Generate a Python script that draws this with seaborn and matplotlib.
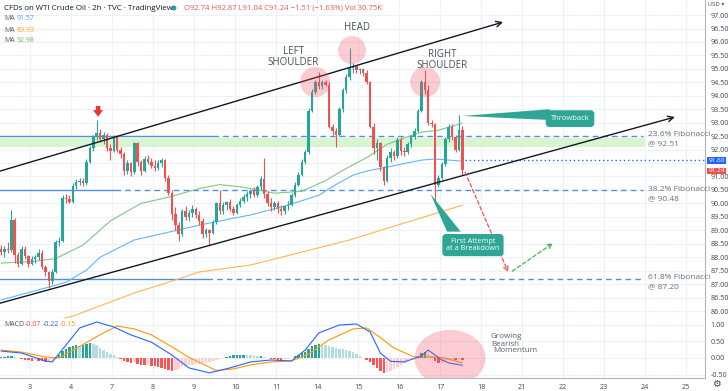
import numpy as np
import matplotlib
matplotlib.use("Agg")
import matplotlib.pyplot as plt
from matplotlib.patches import Ellipse, Polygon
import seaborn as sns

# ---------------- data ----------------
opens = [88.30, 88.20, 88.30, 88.25, 89.40, 88.10, 87.75, 88.30, 88.05, 87.75,
         87.95, 88.00, 88.15, 87.65, 87.45, 87.10, 87.45, 88.55, 88.60, 90.20,
         90.15, 90.05, 90.65, 90.80, 90.85, 90.75, 91.55, 92.05, 92.45, 92.60,
         92.40, 92.55, 92.05, 91.95, 92.50, 92.00, 91.85, 91.20, 91.50, 91.15,
         92.25, 91.55, 91.20, 91.65, 91.55, 91.40, 91.30, 91.50, 91.60, 90.95,
         90.40, 89.60, 89.20, 88.85, 89.70, 89.50, 89.65, 89.80, 89.55, 89.35,
         88.85, 89.00, 88.90, 89.30, 90.00, 89.70, 89.95, 90.05, 89.80, 89.65,
         89.95, 90.10, 90.25, 90.35, 90.45, 90.30, 90.60, 90.90, 90.35, 90.00,
         89.85, 90.00, 89.80, 89.70, 89.90, 89.95, 90.30, 90.70, 91.05, 91.55,
         91.90, 93.45, 94.15, 94.50, 94.35, 94.50, 94.40, 92.85, 92.70, 92.55,
         93.50, 94.20, 94.70, 95.05, 95.10, 94.95, 95.00, 94.85, 94.50, 92.85,
         92.05, 92.25, 91.35, 90.85, 91.70, 91.90, 91.75, 92.35, 91.95, 91.90,
         92.20, 92.45, 92.70, 93.45, 94.50, 94.20, 93.00, 92.95, 90.70, 90.95,
         91.45, 92.40, 92.85, 92.45, 92.00, 92.74]
highs = [88.45, 88.40, 88.55, 89.75, 89.45, 88.20, 88.40, 88.40, 88.10, 88.05,
         88.10, 88.30, 88.25, 87.70, 87.50, 87.55, 88.65, 88.75, 90.30, 90.35,
         90.30, 90.75, 90.90, 90.95, 90.95, 91.65, 92.15, 92.55, 93.10, 92.75,
         92.65, 92.60, 92.20, 92.55, 92.55, 92.10, 91.90, 91.60, 91.55, 92.30,
         92.30, 91.60, 91.75, 91.80, 91.70, 91.60, 91.60, 91.70, 91.65, 91.05,
         90.50, 89.85, 89.30, 89.80, 89.90, 89.75, 89.95, 89.85, 89.70, 89.45,
         89.10, 89.05, 89.40, 90.05, 90.50, 90.05, 90.10, 90.15, 89.90, 90.00,
         90.20, 90.35, 90.45, 90.55, 90.60, 90.70, 91.00, 91.70, 90.45, 90.20,
         90.10, 90.10, 89.95, 89.95, 90.10, 90.40, 90.80, 91.15, 91.65, 92.00,
         93.55, 94.25, 94.60, 94.90, 94.60, 94.60, 94.50, 92.95, 92.80, 93.60,
         94.30, 94.80, 95.77, 95.20, 95.15, 95.05, 95.05, 94.95, 94.55, 93.00,
         92.40, 92.30, 91.40, 91.80, 92.05, 92.00, 92.45, 92.45, 92.10, 92.30,
         92.55, 92.80, 93.50, 94.60, 94.95, 94.40, 93.10, 93.00, 91.05, 91.55,
         92.45, 92.95, 92.95, 92.55, 93.30, 92.87]
lows = [88.10, 88.00, 88.15, 88.20, 87.80, 87.65, 87.70, 87.95, 87.65, 87.70,
        87.80, 87.90, 87.55, 87.30, 86.85, 87.00, 87.40, 88.40, 88.55, 90.00,
        90.00, 90.00, 90.55, 90.70, 90.65, 90.70, 91.50, 91.95, 92.35, 92.30,
        92.20, 91.95, 91.60, 91.90, 91.90, 91.70, 91.05, 91.10, 91.00, 91.10,
        91.40, 91.05, 91.15, 91.45, 91.30, 91.20, 91.25, 91.35, 90.85, 90.30,
        89.40, 89.00, 88.60, 88.80, 89.40, 89.35, 89.50, 89.45, 89.20, 88.70,
        88.75, 88.45, 88.85, 89.25, 89.60, 89.60, 89.75, 89.70, 89.55, 89.60,
        89.85, 90.00, 90.10, 90.20, 90.25, 90.25, 90.50, 90.20, 89.90, 89.70,
        89.75, 89.65, 89.55, 89.60, 89.75, 89.90, 90.25, 90.65, 91.00, 91.45,
        91.85, 93.40, 94.05, 94.25, 94.25, 94.35, 92.80, 92.55, 92.10, 92.50,
        93.40, 94.10, 94.60, 94.85, 94.85, 94.80, 94.75, 94.45, 92.80, 91.85,
        91.60, 91.20, 90.70, 90.80, 91.55, 91.60, 91.70, 91.80, 91.75, 91.85,
        92.10, 92.40, 92.65, 93.40, 94.05, 92.90, 92.85, 90.00, 90.60, 90.90,
        91.40, 92.30, 92.35, 91.90, 91.95, 91.04]
closes = [88.20, 88.30, 88.25, 89.40, 88.10, 87.75, 88.30, 88.05, 87.75, 87.95,
          88.00, 88.15, 87.65, 87.45, 87.10, 87.45, 88.55, 88.60, 90.20, 90.15,
          90.05, 90.65, 90.80, 90.85, 90.75, 91.55, 92.05, 92.45, 92.60, 92.40,
          92.55, 92.05, 91.95, 92.50, 92.00, 91.85, 91.20, 91.50, 91.15, 92.25,
          91.55, 91.20, 91.65, 91.55, 91.40, 91.30, 91.50, 91.60, 90.95, 90.40,
          89.60, 89.20, 88.85, 89.70, 89.50, 89.65, 89.80, 89.55, 89.35, 88.85,
          89.00, 88.90, 89.30, 90.00, 89.70, 89.95, 90.05, 89.80, 89.65, 89.95,
          90.10, 90.25, 90.35, 90.45, 90.30, 90.60, 90.90, 90.35, 90.00, 89.85,
          90.00, 89.80, 89.70, 89.90, 89.95, 90.30, 90.70, 91.05, 91.55, 91.90,
          93.45, 94.15, 94.50, 94.35, 94.50, 94.40, 92.85, 92.70, 92.55, 93.50,
          94.20, 94.70, 95.05, 95.10, 94.95, 95.00, 94.85, 94.50, 92.85, 92.05,
          92.25, 91.35, 90.85, 91.70, 91.90, 91.75, 92.35, 91.95, 91.90, 92.20,
          92.45, 92.70, 93.45, 94.50, 94.20, 93.00, 92.95, 90.70, 90.95, 91.45,
          92.40, 92.85, 92.45, 92.00, 92.74, 91.24]

# moving averages (sampled at candle indices)
ma_fast_idx = [0, 10, 16, 24, 32, 41, 49, 58, 64, 71, 80, 88, 95, 101, 107, 113, 118, 123, 128, 135]
ma_fast_val = [87.78, 87.85, 87.95, 88.45, 89.35, 90.00, 90.23, 90.55, 90.70, 90.60,
               90.38, 90.45, 90.85, 91.30, 91.70, 92.20, 92.43, 92.65, 92.72, 92.98]
ma_mid_idx = [0, 14, 19, 25, 29, 36, 39, 49, 58, 68, 73, 83, 93, 98, 103, 107, 113, 123, 127, 135]
ma_mid_val = [86.41, 86.89, 87.07, 87.52, 88.00, 88.45, 88.64, 88.93, 89.19, 89.45,
              89.57, 89.90, 90.30, 90.70, 91.05, 91.20, 91.35, 91.61, 91.65, 91.57]
ma_slow_idx = [14, 21, 39, 49, 58, 73, 88, 102, 118, 135]
ma_slow_val = [85.60, 85.81, 86.67, 87.07, 87.45, 87.71, 88.19, 88.64, 89.27, 89.93]

# MACD
macd_idx = [0, 6, 13, 15, 19, 23, 28, 33, 38, 44, 50, 55, 61, 67, 73, 79, 85, 89, 93, 99,
            104, 108, 111, 114, 118, 123, 125, 129, 131, 135]
macd_val = [0.21, 0.15, -0.09, -0.12, 0.39, 0.91, 1.09, 0.94, 0.70, 0.48, 0.09, -0.30, -0.45,
            -0.30, -0.12, -0.06, -0.09, 0.24, 0.76, 1.00, 1.03, 0.79, 0.15, -0.10, -0.12,
            0.06, 0.24, -0.06, -0.15, -0.22]
signal_idx = [0, 6, 13, 17, 23, 28, 34, 39, 44, 49, 55, 63, 68, 73, 79, 85, 90, 96, 103,
              107, 111, 115, 121, 126, 130, 135]
signal_val = [0.24, 0.18, 0.03, 0.00, 0.35, 0.65, 0.97, 0.88, 0.70, 0.40, 0.02, -0.38, -0.33,
              -0.21, -0.12, -0.09, 0.12, 0.55, 0.88, 0.91, 0.62, 0.30, 0.03, 0.03, 0.00, -0.15]
hist_val = [0.02, 0.03, 0.05, 0.06, 0.03, 0.00,
            -0.03, -0.05, -0.06, -0.08, -0.07, -0.09, -0.10, -0.12, -0.11,
            -0.08, -0.02,
            0.08, 0.20, 0.28, 0.32, 0.36, 0.38, 0.37, 0.40, 0.42, 0.44, 0.42, 0.38,
            0.30, 0.25, 0.18, 0.12, 0.08, 0.03,
            -0.03, -0.08, -0.12, -0.14, -0.13, -0.17, -0.20, -0.22, -0.21, -0.24, -0.25,
            -0.27, -0.30, -0.33, -0.36, -0.38, -0.35, -0.33,
            -0.28, -0.25, -0.22, -0.20, -0.18, -0.17, -0.15, -0.14, -0.12, -0.10, -0.06,
            -0.02, 0.01,
            0.04, 0.06, 0.08, 0.09, 0.10, 0.10, 0.09, 0.08,
            0.06, 0.05, 0.05, 0.03, 0.00, -0.03, -0.04, -0.05, -0.05, -0.04, -0.03,
            0.00, 0.05, 0.10, 0.15, 0.19, 0.28, 0.36, 0.40, 0.42, 0.40, 0.38, 0.35, 0.32, 0.29,
            0.28, 0.27, 0.25, 0.22, 0.17, 0.12, 0.06, 0.00, -0.06,
            -0.12, -0.22, -0.30, -0.38, -0.45, -0.42, -0.38, -0.33,
            -0.27, -0.21, -0.15, -0.10, -0.05, -0.01,
            0.06, 0.14, 0.18, 0.12, 0.05,
            -0.08, -0.15, -0.14, -0.10, -0.06,
            -0.04, -0.05, -0.03, -0.07]

day_labels = ["3", "4", "7", "8", "9", "10", "11", "14", "15", "16", "17", "18",
              "21", "22", "23", "24", "25"]
fib_levels = [92.51, 90.48, 87.20]
fib_names = ["23.6% Fibonacci", "38.2% Fibonacci", "61.8% Fibonacci"]

# ---------------- style ----------------
sns.set_theme(style="white")
plt.rcParams['font.family'] = ['Open Sans', 'DejaVu Sans']

W, H = 728, 391
fig = plt.figure(figsize=(W / 100, H / 100), dpi=100)
ax = fig.add_axes([0, (H - 318) / H, 705 / W, 318 / H])
axm = fig.add_axes([0, (H - 378) / H, 705 / W, 60 / H])

GREEN = '#26a69a'
RED = '#ef5350'
GRID = '#eef1f7'
TXT = '#131722'
FIBC = '#4f8fdc'

XMIN, XMAX = -0.3, 206.0
day_pos = [8.5 + 12 * k for k in range(len(day_labels))]

for a in (ax, axm):
    a.set_facecolor('white')
    a.set_xlim(XMIN, XMAX)
    a.set_xticks(day_pos)
    a.grid(True, color=GRID, lw=0.8)
    a.set_axisbelow(True)
    a.yaxis.tick_right()
    for s in ('top', 'left'):
        a.spines[s].set_visible(False)
    for s in ('right', 'bottom'):
        a.spines[s].set_color('#b2b5be')
        a.spines[s].set_linewidth(0.8)

ax.set_ylim(85.74, 97.56)
yt = np.arange(86.0, 97.01, 0.5)
ax.set_yticks(yt)
# the 91.50 label is hidden behind the last-price tags, as in the reference
ax.set_yticklabels(["" if abs(v - 91.5) < 1e-6 else f"{v:.2f}" for v in yt])
ax.tick_params(axis='y', length=0, pad=4, labelsize=5.2, labelcolor='#434651')
ax.tick_params(axis='x', length=0, labelbottom=False)

axm.set_ylim(-0.606, 1.212)
axm.set_yticks([-0.5, 0.0, 0.5, 1.0])
axm.set_yticklabels(["-0.50", "0.00", "0.50", "1.00"])
axm.tick_params(axis='y', length=0, pad=4, labelsize=5.2, labelcolor='#434651')
axm.set_xticklabels(day_labels)
axm.tick_params(axis='x', length=0, pad=4, labelsize=5.2, labelcolor='#434651')

# ---------------- main pane ----------------
ax.fill_between([XMIN, 188.5], 92.10, 92.43, color='#d7f5cf', zorder=1, lw=0)
fib_solid_end = [62.0, 33.4, 60.3]
for lv, se in zip(fib_levels, fib_solid_end):
    ax.plot([XMIN, se], [lv, lv], color=FIBC, lw=1.0, zorder=2)
    ax.plot([se, 188.0], [lv, lv], color=FIBC, lw=1.0, ls=(0, (4, 3)), zorder=2)
for lv, name in zip(fib_levels, fib_names):
    ax.text(189.3, lv + 0.05, name, fontsize=6, color='#6a6d78', va='center', ha='left')
    ax.text(189.3, lv - 0.30, f"@ {lv:.2f}", fontsize=6, color='#6a6d78', va='center', ha='left')

sns.lineplot(x=ma_slow_idx, y=ma_slow_val, ax=ax, color='#ffb74d', lw=0.8, zorder=3, legend=False)
sns.lineplot(x=ma_mid_idx, y=ma_mid_val, ax=ax, color='#64b5f6', lw=0.8, zorder=3, legend=False)
sns.lineplot(x=ma_fast_idx, y=ma_fast_val, ax=ax, color='#81c784', lw=0.8, zorder=3, legend=False)

o = np.array(opens); h = np.array(highs); l = np.array(lows); c = np.array(closes)
idx = np.arange(len(c))
cols = np.where(c >= o, GREEN, RED)
ax.vlines(idx, l, h, colors=cols, lw=0.8, zorder=4)
ax.bar(idx, np.maximum(np.abs(c - o), 0.03), bottom=np.minimum(o, c), width=0.72,
       color=cols, lw=0, zorder=5)

ax.annotate('', xy=(146.9, 96.74), xytext=(XMIN, 91.20), annotation_clip=False,
            arrowprops=dict(arrowstyle='->', color='#131722', lw=1.0, mutation_scale=10,
                            shrinkA=0, shrinkB=0), zorder=6)
ax.annotate('', xy=(197.2, 93.21), xytext=(XMIN, 86.29), annotation_clip=False,
            arrowprops=dict(arrowstyle='->', color='#131722', lw=1.0, mutation_scale=10,
                            shrinkA=0, shrinkB=0), zorder=6)

ax.plot([135.8, XMAX], [91.60, 91.60], color='#2962ff', lw=1.0, ls=(0, (1, 2)), zorder=3)

ax.annotate('', xy=(148.4, 87.45), xytext=(135.8, 91.16),
            arrowprops=dict(arrowstyle='->', color=RED, lw=0.9, ls=(0, (3, 2)),
                            mutation_scale=8, shrinkA=0, shrinkB=0), zorder=6)
ax.annotate('', xy=(161.5, 88.52), xytext=(149.6, 87.48),
            arrowprops=dict(arrowstyle='->', color='#4caf50', lw=0.9, ls=(0, (3, 2)),
                            mutation_scale=8, shrinkA=0, shrinkB=0), zorder=6)

ax.annotate('', xy=(28.4, 93.22), xytext=(28.4, 93.62),
            arrowprops=dict(arrowstyle='simple,head_width=1.2,head_length=0.8,tail_width=0.55',
                            color='#e53935', lw=0, mutation_scale=6, shrinkA=0, shrinkB=0),
            zorder=7)

pink = (0.95, 0.30, 0.38, 0.28)
for (cx, cy, w, hh) in [(91.9, 94.51, 8.8, 1.12), (102.7, 95.70, 8.2, 1.04), (124.1, 94.51, 8.8, 1.12)]:
    ax.add_patch(Ellipse((cx, cy), w, hh, fc=pink, ec='none', zorder=6))

ax.text(104.2, 96.55, "HEAD", fontsize=7, color='#4a4d57', ha='center', va='center')
ax.text(85.5, 95.43, "LEFT\nSHOULDER", fontsize=7, color='#4a4d57', ha='center', va='center',
        linespacing=1.0)
ax.text(129.1, 95.33, "RIGHT\nSHOULDER", fontsize=7, color='#4a4d57', ha='center', va='center',
        linespacing=1.0)

TEAL = '#2fa596'
ax.add_patch(Polygon([(134.9, 93.25), (160.5, 93.50), (160.5, 93.10)], closed=True,
                     fc=TEAL, ec='none', zorder=7))
ax.text(166.5, 93.15, "Throwback", fontsize=5.5, color='white', ha='center', va='center',
        zorder=8, bbox=dict(boxstyle='round,pad=0.55,rounding_size=0.4', fc=TEAL, ec=TEAL))
ax.add_patch(Polygon([(125.7, 90.35), (130.5, 88.95), (134.5, 88.95)], closed=True,
                     fc=TEAL, ec='none', zorder=7))
ax.text(138.1, 88.45, "First Attempt\nat a Breakdown", fontsize=5.2, color='white',
        ha='center', va='center', linespacing=1.05, zorder=8,
        bbox=dict(boxstyle='round,pad=0.45,rounding_size=0.4', fc=TEAL, ec=TEAL))

# ---------------- MACD pane ----------------
hv = np.array(hist_val)
prev = np.concatenate([[hv[0]], hv[:-1]])
hcols = np.where(hv >= 0, np.where(hv >= prev, '#26a69a', '#b2dfdb'),
                 np.where(hv <= prev, '#ff5252', '#ffcdd2'))
axm.bar(np.arange(len(hv)), hv, width=0.72, color=hcols, lw=0, zorder=3)
sns.lineplot(x=signal_idx, y=signal_val, ax=axm, color='#ff9800', lw=0.8, zorder=4, legend=False)
sns.lineplot(x=macd_idx, y=macd_val, ax=axm, color='#2962ff', lw=0.8, zorder=4, legend=False)
axm.add_patch(Ellipse((131.4, 0.0), 20.8, 1.70, fc=pink, ec='none', zorder=5))
axm.set_xlabel(''); axm.set_ylabel(''); ax.set_xlabel(''); ax.set_ylabel('')

# ---------------- header texts (figure pixels) ----------------
def ftext(x, y, s, **kw):
    fig.text(x / W, 1 - y / H, s, va='center', ha=kw.pop('ha', 'left'), **kw)

ftext(4, 8, "CFDs on WTI Crude Oil · 2h · TVC · TradingView", fontsize=5.7, color=TXT)
fig.add_artist(Ellipse((174 / W, 1 - 8 / H), 5 / W, 5 / H, transform=fig.transFigure,
                       fc=GREEN, ec='none'))
ftext(184, 8, "O92.74 H92.87 L91.04 C91.24 −1.51 (−1.63%) Vol 30.75K", fontsize=5.5, color='#ef5350')
for yy, val, colr in [(19, "91.57", '#42a5f5'), (30, "89.93", '#ffa726'), (41, "92.98", '#66bb6a')]:
    ftext(4, yy, "MA", fontsize=5, color='#555862')
    ftext(17, yy, val, fontsize=5, color=colr)
ftext(4, 325, "MACD", fontsize=5, color='#555862')
ftext(25, 325, "-0.07", fontsize=5, color='#ef5350')
ftext(43, 325, "-0.22", fontsize=5, color='#2962ff')
ftext(60, 325, "-0.15", fontsize=5, color='#ff9800')
ftext(490, 337, "Growing", fontsize=5.8, color='#5d606b')
ftext(491.5, 344, "Bearish", fontsize=5.8, color='#5d606b')
ftext(493, 351, "Momentum", fontsize=5.8, color='#5d606b')

fig.text(716.5 / W, 1 - 160.5 / H, "91.60", fontsize=4.6, color='white', ha='center', va='center',
         bbox=dict(boxstyle='square,pad=0.15', fc='#2962ff', ec='none'))
fig.text(716.5 / W, 1 - 171 / H, "91.24", fontsize=4.6, color='white', ha='center', va='center',
         bbox=dict(boxstyle='square,pad=0.15', fc='#ef5350', ec='none'))
ftext(716, 5, "USD ▾", fontsize=4, color='#555862', ha='center', family=['DejaVu Sans'])
ftext(716, 384, "⚙", fontsize=7, color='#434651', ha='center', family=['DejaVu Sans'])

fig.savefig("out.png", dpi=100, facecolor='white')
